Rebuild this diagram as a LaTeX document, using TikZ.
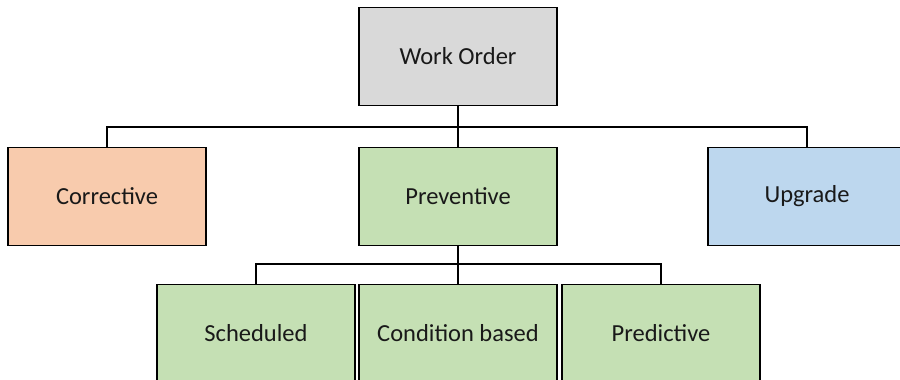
\documentclass[tikz,border=0pt]{standalone}
\usepackage{fontspec}
\setmainfont{Carlito}
\begin{document}
\begin{tikzpicture}[x=1pt,y=-1pt,
  box/.style={draw=black, line width=1.6pt, rectangle, inner sep=0pt,
    minimum width=198pt, minimum height=98pt,
    font=\fontsize{24.5}{28}\selectfont, text=black!90},
  link/.style={draw=black, line width=1.4pt}]
  \useasboundingbox (0,0) rectangle (900,380);
  \clip (0,0) rectangle (900,380);

  % top level
  \node[box, fill={rgb,255:red,217;green,217;blue,217}] (wo) at (458,56.5) {Work Order};

  % second level
  \node[box, fill={rgb,255:red,248;green,203;blue,173}] (cor) at (107,196.5) {Corrective};
  \node[box, fill={rgb,255:red,197;green,224;blue,180}] (prev) at (458,196.5) {Preventive};
  \node[box, fill={rgb,255:red,189;green,215;blue,238}] (upg) at (807,196.5) {Upgrade};

  % third level
  \node[box, fill={rgb,255:red,197;green,224;blue,180}] (sch) at (256,333.5) {Scheduled};
  \node[box, fill={rgb,255:red,197;green,224;blue,180}] (cond) at (458,333.5) {Condition based};
  \node[box, fill={rgb,255:red,197;green,224;blue,180}] (pred) at (661,333.5) {Predictive};

  % connectors
  \coordinate (busA) at (458,127);
  \coordinate (busB) at (458,264);
  \draw[link] (wo.south) -- (busA);
  \draw[link] (cor.north) |- (busA) -| (upg.north);
  \draw[link] (busA) -- (prev.north);
  \draw[link] (prev.south) -- (busB);
  \draw[link] (sch.north) |- (busB) -| (pred.north);
  \draw[link] (busB) -- (cond.north);
\end{tikzpicture}
\end{document}
